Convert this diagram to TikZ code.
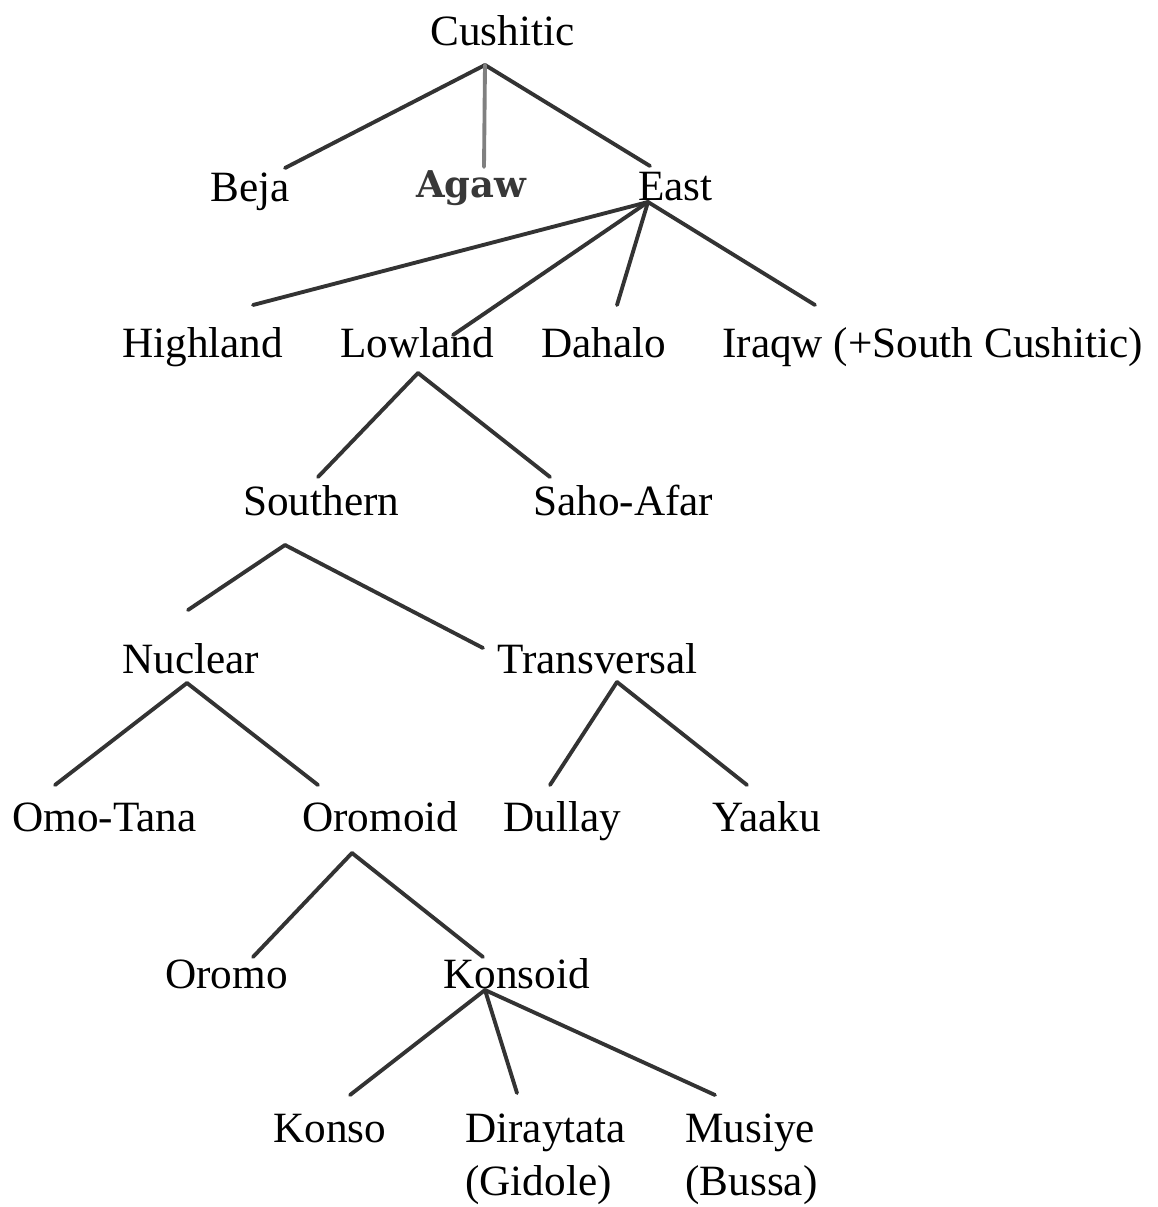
\documentclass[tikz,border=0pt]{standalone}
\usepackage{fontspec}
\setmainfont{Liberation Serif}
\newfontfamily\agawfont{DejaVu Serif}

\begin{document}
\begin{tikzpicture}[x=0.02cm,y=-0.02cm,
  lang/.style={inner sep=0pt,anchor=base west,font=\fontsize{24.6}{30}\selectfont},
  branch/.style={draw=black!80,line width=2.2pt,line cap=round}]
  \useasboundingbox (0,0) rectangle (1157,1207);

  % languages
  \node [lang] (cushitic) at (430,45) {Cushitic};
  \node [lang] (beja) at (210,201) {Beja};
  \node [lang,font=\agawfont\bfseries\fontsize{21}{25}\selectfont,text=black!78] (agaw) at (416,197) {Agaw};
  \node [lang] (east) at (638,200) {East};
  \node [lang] (highland) at (122,357) {Highland};
  \node [lang] (lowland) at (340,357) {Lowland};
  \node [lang] (dahalo) at (541,357) {Dahalo};
  \node [lang] (iraqw) at (722,357) {Iraqw (+South Cushitic)};
  \node [lang] (southern) at (243,515) {Southern};
  \node [lang] (sahoafar) at (533,515) {Saho-Afar};
  \node [lang] (nuclear) at (122,673) {Nuclear};
  \node [lang] (transversal) at (497,673) {Transversal};
  \node [lang] (omotana) at (12,831) {Omo-Tana};
  \node [lang] (oromoid) at (302,831) {Oromoid};
  \node [lang] (dullay) at (503,831) {Dullay};
  \node [lang] (yaaku) at (712,831) {Yaaku};
  \node [lang] (oromo) at (165,988) {Oromo};
  \node [lang] (konsoid) at (443,988) {Konsoid};
  \node [lang] (konso) at (273,1142) {Konso};
  % two-line labels sit on their last baseline
  \node [lang,align=left] (diraytata) at (465,1195) {Diraytata\\(Gidole)};
  \node [lang,align=left] (musiye) at (685,1195) {Musiye\\(Bussa)};

  % branch points
  \coordinate (cushitic-b) at (485,65);
  \coordinate (east-b) at (648,202);
  \coordinate (lowland-b) at (418,373);
  \coordinate (southern-b) at (285,545);
  \coordinate (nuclear-b) at (187,683);
  \coordinate (transversal-b) at (617,682);
  \coordinate (oromoid-b) at (352,853);
  \coordinate (konsoid-b) at (485,990);

  % branch ends
  \coordinate (beja-t) at (285,168);
  \coordinate (agaw-t) at (484,167);
  \coordinate (east-t) at (650,166);
  \coordinate (highland-t) at (253,305);
  \coordinate (lowland-t) at (453,335);
  \coordinate (dahalo-t) at (617,305);
  \coordinate (iraqw-t) at (815,305);
  \coordinate (southern-t) at (318,477);
  \coordinate (sahoafar-t) at (550,477);
  \coordinate (nuclear-t) at (188,610);
  \coordinate (transversal-t) at (483,648);
  \coordinate (omotana-t) at (55,785);
  \coordinate (oromoid-t) at (318,785);
  \coordinate (dullay-t) at (550,785);
  \coordinate (yaaku-t) at (747,785);
  \coordinate (oromo-t) at (253,957);
  \coordinate (konsoid-t) at (483,957);
  \coordinate (konso-t) at (350,1095);
  \coordinate (diraytata-t) at (517,1093);
  \coordinate (musiye-t) at (715,1095);

  \path [branch] (cushitic-b) edge (beja-t) edge (east-t);
  \path [branch,draw=black!50] (cushitic-b) edge (agaw-t);
  \path [branch] (east-b) edge (highland-t) edge (lowland-t) edge (dahalo-t) edge (iraqw-t);
  \path [branch] (lowland-b) edge (southern-t) edge (sahoafar-t);
  \path [branch] (southern-b) edge (nuclear-t) edge (transversal-t);
  \path [branch] (nuclear-b) edge (omotana-t) edge (oromoid-t);
  \path [branch] (transversal-b) edge (dullay-t) edge (yaaku-t);
  \path [branch] (oromoid-b) edge (oromo-t) edge (konsoid-t);
  \path [branch] (konsoid-b) edge (konso-t) edge (diraytata-t) edge (musiye-t);

\end{tikzpicture}
\end{document}
